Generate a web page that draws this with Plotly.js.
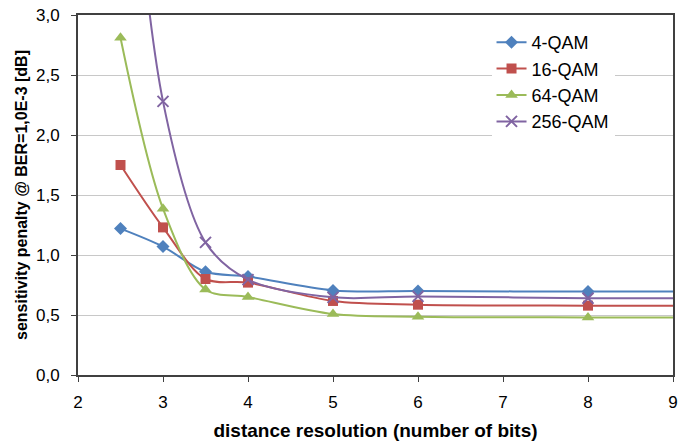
<!DOCTYPE html>
<html>
<head>
<meta charset="utf-8">
<script src="https://cdn.plot.ly/plotly-3.0.1.min.js"></script>
<style>html,body{margin:0;padding:0;background:#fff;}#chart{width:679px;height:445px;}</style>
</head>
<body>
<div id="chart"></div>
<script>
const bits = [2.5, 3, 3.5, 4, 5, 6, 8, 10];
const bits256 = [2.5, 3, 3.5, 4, 5, 6, 8, 10];
const qam4 = [1.22, 1.07, 0.86, 0.82, 0.705, 0.70, 0.695, 0.695];
const qam16 = [1.75, 1.23, 0.80, 0.77, 0.617, 0.586, 0.578, 0.578];
const qam64 = [2.81, 1.386, 0.713, 0.65, 0.508, 0.486, 0.48, 0.48];
const qam256 = [5.5, 2.28, 1.105, 0.795, 0.647, 0.655, 0.64, 0.64];
const names = ['4-QAM', '16-QAM', '64-QAM', '256-QAM'];
const xTicks = [2, 3, 4, 5, 6, 7, 8, 9];
const yTicks = [0, 0.5, 1.0, 1.5, 2.0, 2.5, 3.0];

const colors = ['#4F81BD', '#C0504D', '#9BBB59', '#8064A2'];
const symbols = ['diamond', 'square', 'triangle-up', 'x-thin-open'];
const sizes = [10, 10, 11, 11];
const xs = [bits, bits, bits, bits256];
const ys = [qam4, qam16, qam64, qam256];

const traces = names.map((n, i) => ({
  x: xs[i], y: ys[i], name: n, type: 'scatter', mode: 'lines+markers',
  line: {color: colors[i], width: 2, shape: 'spline', smoothing: 0.9},
  marker: {symbol: symbols[i], size: sizes[i], color: colors[i],
           line: {color: colors[i], width: i === 3 ? 2 : 0}},
  cliponaxis: true
}));

const layout = {
  width: 679, height: 445,
  margin: {l: 78, r: 6, t: 15, b: 70},
  paper_bgcolor: '#fff', plot_bgcolor: '#fff',
  separators: ',.',
  font: {family: 'Liberation Sans, Arial, sans-serif', size: 17, color: '#000'},
  showlegend: true,
  legend: {x: 0.695, y: 0.975, xanchor: 'left', yanchor: 'top', bgcolor: '#fff',
           font: {size: 18}, tracegroupgap: 0, itemwidth: 30},
  xaxis: {range: [2, 9], tickvals: xTicks, ticks: 'outside', ticklen: 5, tickcolor: '#404040',
          showline: true, linecolor: '#404040', linewidth: 2, mirror: true, ticklabelstandoff: 6,
          showgrid: false, zeroline: false, tickfont: {size: 17},
          title: {text: '<b>distance resolution (number of bits)</b>', font: {size: 19}, standoff: 12}},
  yaxis: {range: [0, 3], tickvals: yTicks, tickformat: '.1f', ticks: 'outside', ticklen: 5, tickcolor: '#404040',
          showline: true, linecolor: '#404040', linewidth: 2, mirror: true, ticklabelstandoff: 8,
          showgrid: true, gridcolor: '#c8c8c8', gridwidth: 1, zeroline: false, tickfont: {size: 17},
          title: {text: '<b>sensitivity penalty @ BER=1,0E-3 [dB]</b>', font: {size: 16}, standoff: 4}}
};

Plotly.newPlot('chart', traces, layout, {displayModeBar: false, staticPlot: true});
</script>
</body>
</html>
